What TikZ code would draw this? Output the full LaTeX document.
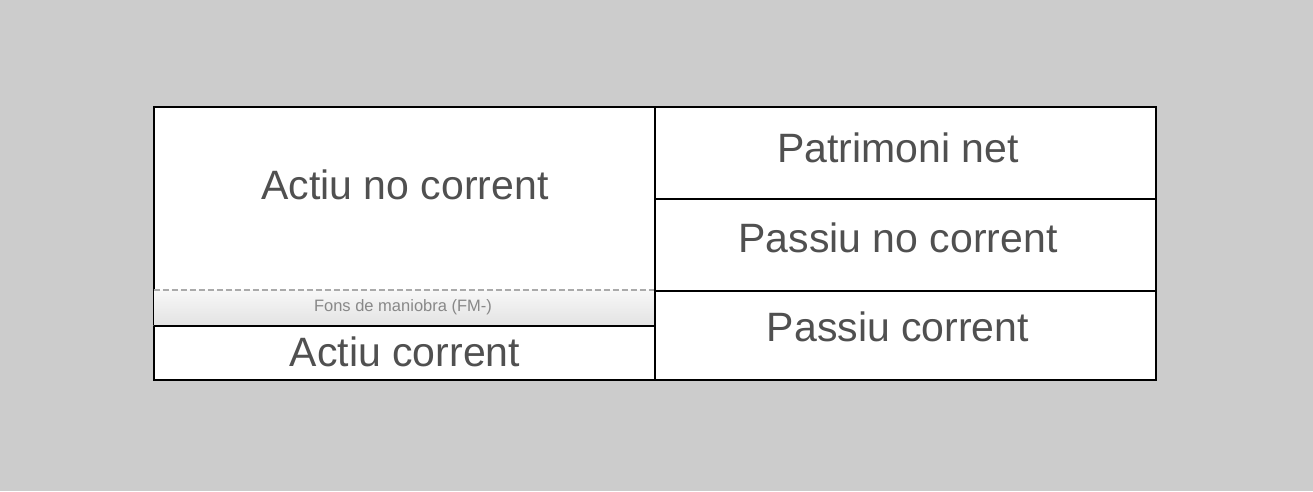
\documentclass[tikz,border=0pt]{standalone}
\usepackage{fontspec}
\setmainfont{Liberation Sans}
\definecolor{bg}{HTML}{CCCCCC}
\definecolor{txt}{HTML}{505050}
\definecolor{fmtxt}{HTML}{888888}
\definecolor{dashgray}{HTML}{AAAAAA}
\begin{document}
\begin{tikzpicture}[x=1pt,y=-1pt,
  cell/.style={draw=black,line width=1.8pt,fill=white,inner sep=0pt,anchor=north west},
  big/.style={text=txt,font=\fontsize{41}{49}\selectfont,inner sep=0pt},
  small/.style={text=fmtxt,font=\fontsize{16.5}{20}\selectfont,inner sep=0pt}]
\useasboundingbox[fill=bg] (0,0) rectangle (1313,491);
% left column
\node[cell,minimum width=501pt,minimum height=184pt] (anc) at (153,106) {};
\node[cell,minimum width=501pt,minimum height=54pt] (ac) at (153,325) {};
\node[inner sep=0pt,anchor=north west,minimum width=500pt,minimum height=35pt,top color=white!97!black,bottom color=white!89!black] (fm) at (153.5,290) {};
\draw[black,line width=1.8pt] (fm.south west) -- (fm.south east);
\draw[black,line width=1.8pt] (fm.north west) -- (fm.south west);
\draw[dashgray,line width=1.5pt,dash pattern=on 6pt off 3pt] (fm.north west) -- (fm.north east);
% right column
\node[cell,minimum width=501pt,minimum height=92pt] (pn) at (654,106) {};
\node[cell,minimum width=501pt,minimum height=92pt] (pnc) at (654,198) {};
\node[cell,minimum width=501pt,minimum height=89pt] (pc) at (654,290) {};
% texts
\node[big] (t1) at (405,184.5) {Actiu no corrent};
\node[small] (t2) at (403,307) {Fons de maniobra (FM-)};
\node[big] (t3) at (405,351.5) {Actiu corrent};
\node[big] (t4) at (898,148) {Patrimoni net};
\node[big] (t5) at (898,237.5) {Passiu no corrent};
\node[big] (t6) at (898,326.5) {Passiu corrent};
\end{tikzpicture}
\end{document}
